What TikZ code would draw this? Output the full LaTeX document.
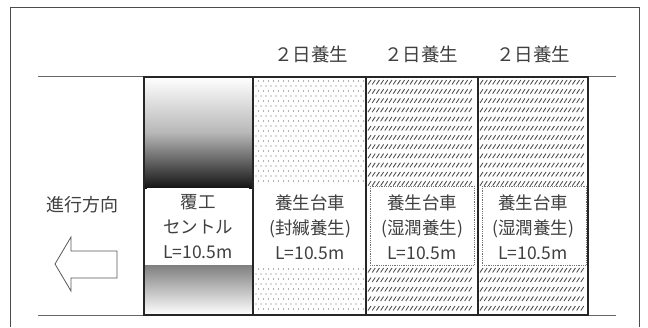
\documentclass[tikz,border=0pt]{standalone}
\usepackage{fontspec}
\setmainfont{Noto Sans CJK JP}
\begin{document}
\begin{tikzpicture}[x=1pt,y=-1pt,
  txt/.style={text=black!75,font=\fontsize{17.5}{25}\selectfont,align=center,inner sep=0pt},
  boxline/.style={draw=black!85,line width=2.6pt},
  thinline/.style={draw=black!60,line width=1pt},
  hatch/.style={draw=black!70,line width=0.85pt},
  dotc/.style={fill=black!60}]
\useasboundingbox (0,0) rectangle (648,327);
\fill[white] (0,0) rectangle (648,327);
% outer frame
\draw[draw=black!70,line width=1.4pt] (10.5,327) -- (10.5,7.5) -- (639.5,7.5) -- (639.5,327);
% horizontal lines
\coordinate (tl) at (38,76.5);
\coordinate (tr) at (616,76.5);
\coordinate (bl) at (38,315.5);
\coordinate (br) at (616,315.5);
\draw[thinline] (tl) -- (tr);
\draw[thinline] (bl) -- (br);
% box 1 gradient
\shade[top color=white,bottom color=black!92,middle color=black!28] (144,77) rectangle (253,188);
\shade[top color=black!50,bottom color=white] (144,265) rectangle (253,315);
\fill[white] (147,188) rectangle (249,265);
% box 2 dots
\foreach \yy [count=\i] in {81,86,...,183} {
  \foreach \xx in {256,261,...,363} {
    \fill[dotc] ({\xx+mod(\i,2)*2.5},\yy) circle (0.65);
  }
}
\foreach \yy [count=\i] in {269,274,...,312} {
  \foreach \xx in {256,261,...,363} {
    \fill[dotc] ({\xx+mod(\i,2)*2.5},\yy) circle (0.65);
  }
}
% boxes 3 and 4 hatching
\foreach \bx in {366,478} {
  \foreach \yy in {80,89.2,...,182} {
    \foreach \xx in {2,6.2,...,106} {
      \draw[hatch] ({\bx+\xx},{\yy+4.5}) -- ({\bx+\xx+3},\yy);
    }
  }
  \foreach \yy in {268,277.5,...,310} {
    \foreach \xx in {2,6.2,...,106} {
      \draw[hatch] ({\bx+\xx},{\yy+4.5}) -- ({\bx+\xx+3},\yy);
    }
  }
  \draw[black!55,densely dotted,line width=0.8pt] ({\bx+4},186) rectangle ({\bx+108},265);
}
% box borders
\draw[boxline] (144,77) rectangle (588,315);
\draw[boxline] (253,77) -- (253,315);
\draw[boxline] (366,77) -- (366,315);
\draw[boxline] (478,77) -- (478,315);
% labels top
\node[txt,font=\fontsize{18.5}{25}\selectfont] (d1) at (311,54) {２日養生};
\node[txt,font=\fontsize{18.5}{25}\selectfont] (d2) at (421,54) {２日養生};
\node[txt,font=\fontsize{18.5}{25}\selectfont] (d3) at (533,54) {２日養生};
% box texts
\node[txt] (b1) at (198,227) {覆工\\セントル\\L=10.5m};
\node[txt] (b2) at (310,227) {養生台車\\(封緘養生)\\L=10.5m};
\node[txt] (b3) at (422,227) {養生台車\\(湿潤養生)\\L=10.5m};
\node[txt] (b4) at (533,227) {養生台車\\(湿潤養生)\\L=10.5m};
% direction
\node[txt,font=\fontsize{18}{25}\selectfont] (dir) at (82,205) {進行方向};
\draw[draw=black!65,line width=0.8pt,fill=white] (55,264) -- (71,237) -- (71,251) -- (117,251) -- (117,278) -- (71,278) -- (71,291) -- cycle;
\end{tikzpicture}
\end{document}
